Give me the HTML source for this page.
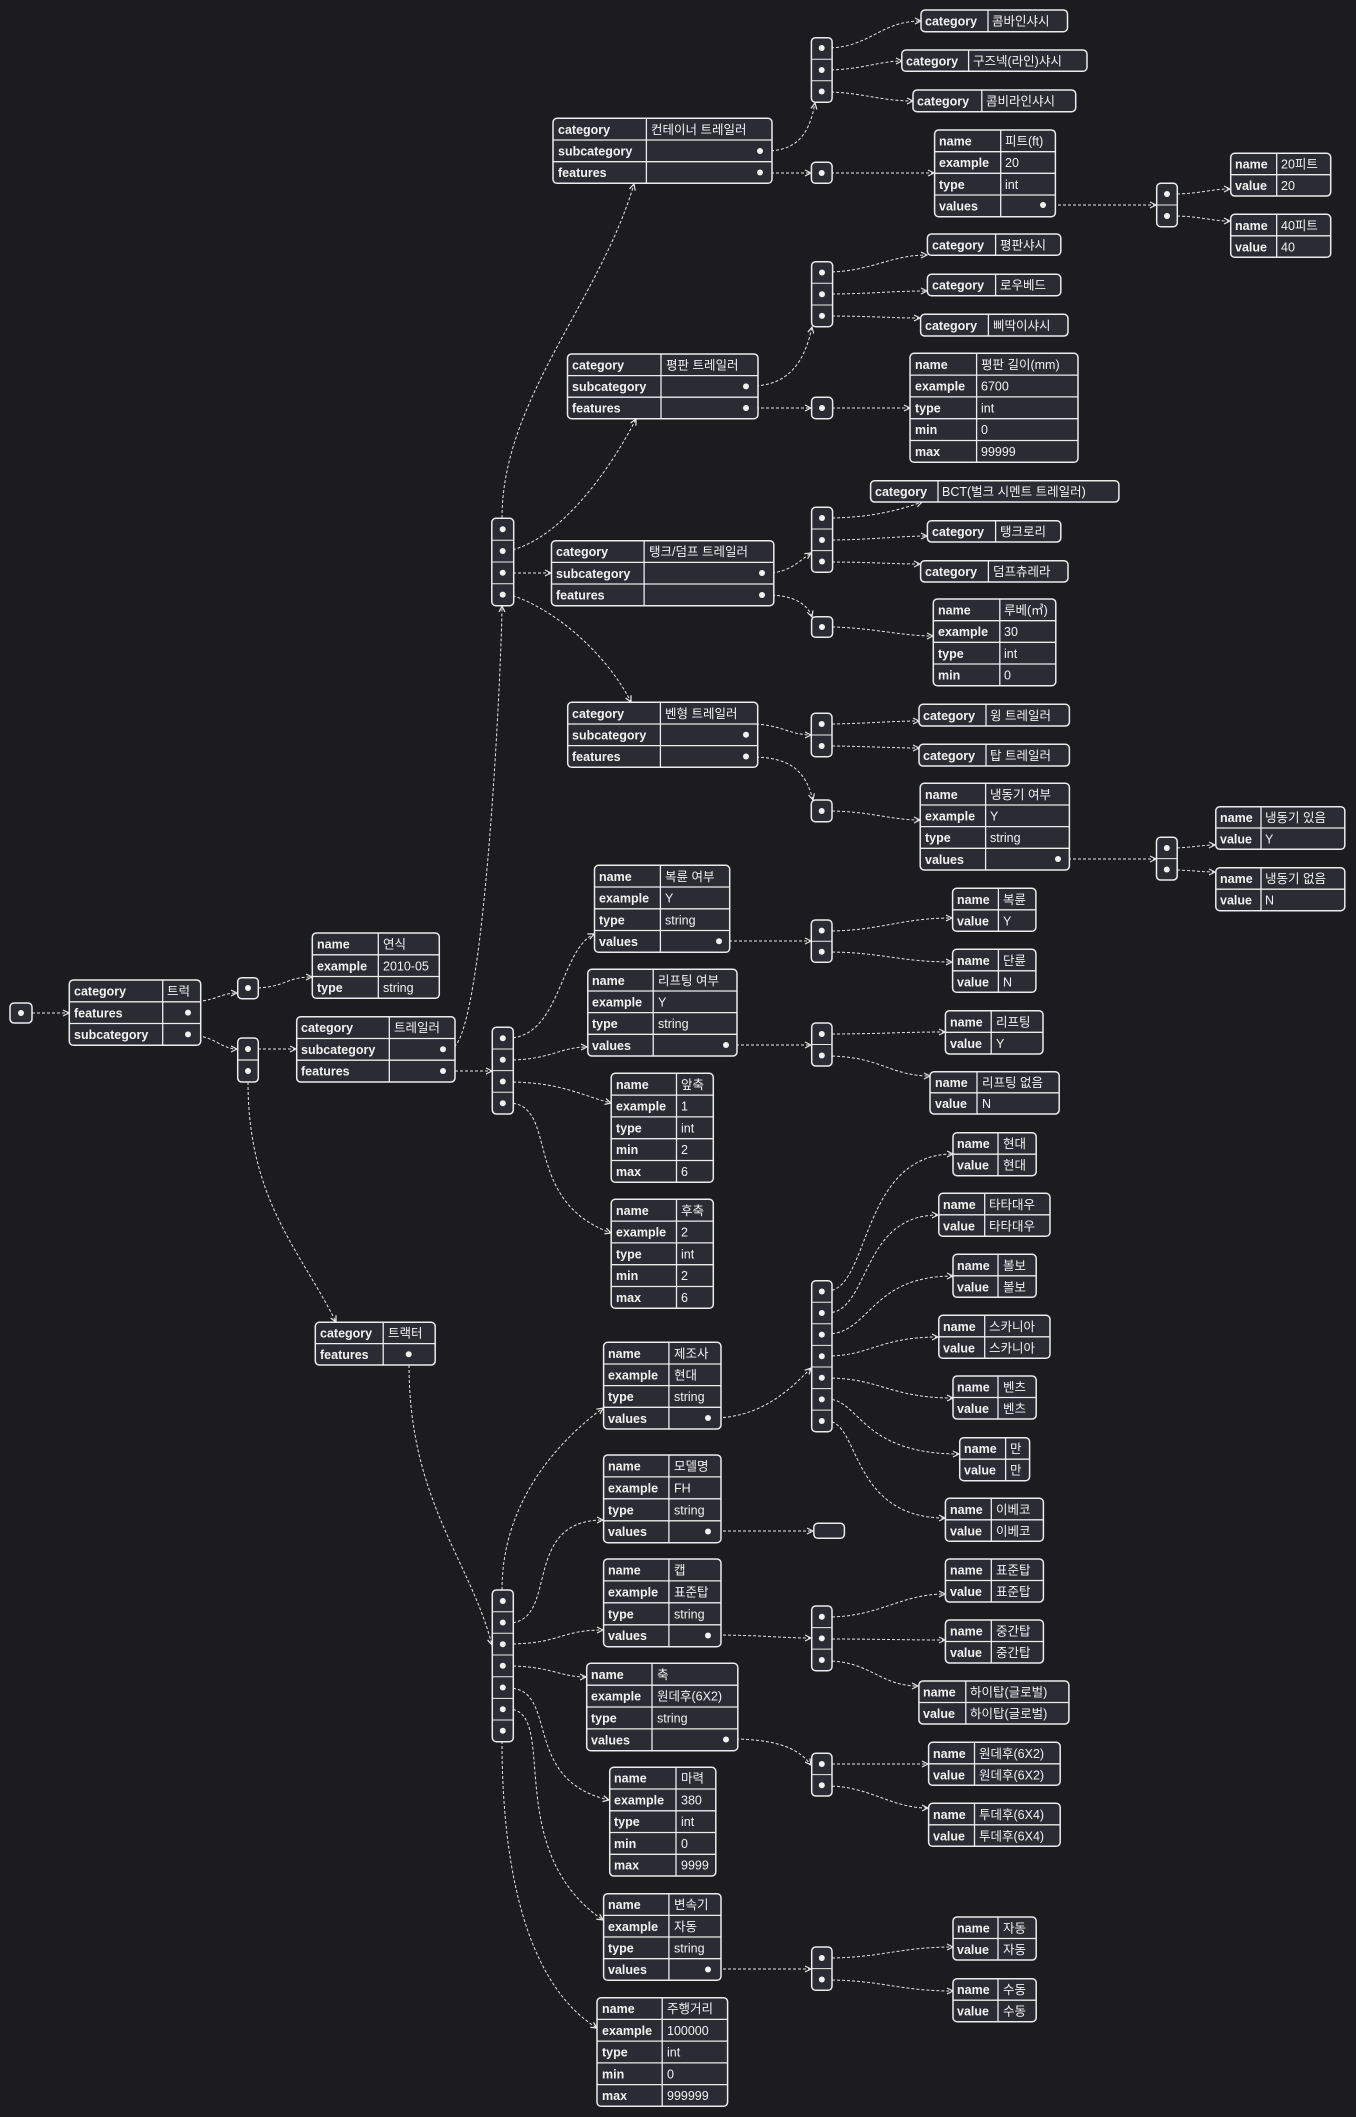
<!DOCTYPE html>
<html><head><meta charset="utf-8"><style>
html,body{margin:0;padding:0;background:#1c1c1e;}
svg{display:block;}
.t rect.b{fill:#2b2b33;stroke:#ececec;stroke-width:1.5;}
.t line{stroke:#ececec;stroke-width:1.3;}
text{font-family:"Liberation Sans","Noto Sans CJK KR",sans-serif;font-size:12.5px;fill:#f2f2f2;}
text.k{font-weight:bold;}
.d{fill:#f2f2f2;}
.e{fill:none;stroke:#e6e6e6;stroke-width:1;stroke-dasharray:3 2;marker-end:url(#ar);}
.bx{fill:#2b2b33;stroke:#ececec;stroke-width:1.5;}
</style></head><body>
<svg width="1356" height="2117" viewBox="0 0 1356 2117" xmlns="http://www.w3.org/2000/svg">
<defs><marker id="ar" markerWidth="8" markerHeight="8" refX="7" refY="4" orient="auto" markerUnits="userSpaceOnUse"><path d="M1,1 L7,4 L1,7" fill="none" stroke="#e6e6e6" stroke-width="1.2"/></marker></defs>

<!-- edges -->
<path class="e" d="M32,1013 L69,1013"/>
<path class="e" d="M188,1002 C215,1002 220,993 237,993"/>
<path class="e" d="M188,1035 C215,1035 220,1049 237,1049"/>
<path class="e" d="M253,988 C285,988 285,977 312,977"/>
<path class="e" d="M253,1049 L296,1049"/>
<path class="e" d="M248,1082 C248,1200 300,1250 336,1322"/>
<path class="e" d="M450,1049 C485,1049 502,650 502,606"/>
<path class="e" d="M450,1071 L492,1071"/>
<path class="e" d="M502,518 C502,400 600,300 634,184"/>
<path class="e" d="M508,551 C560,540 610,470 636,419"/>
<path class="e" d="M508,573 L551,573"/>
<path class="e" d="M508,594 C560,610 610,660 631,702"/>
<path class="e" d="M766,151 C800,151 810,130 815,103"/>
<path class="e" d="M766,173 L811,173"/>
<path class="e" d="M826,48 C870,48 880,21 921,21"/>
<path class="e" d="M826,70 C860,70 880,61 902,61"/>
<path class="e" d="M826,92 C860,92 880,101 913,101"/>
<path class="e" d="M826,173 L934,173"/>
<path class="e" d="M1048,205 L1156,205"/>
<path class="e" d="M1172,194 C1200,194 1210,189 1230,189"/>
<path class="e" d="M1172,216 C1200,216 1210,221 1230,221"/>
<path class="e" d="M751,386 C790,386 805,360 812,327"/>
<path class="e" d="M751,408 L811,408"/>
<path class="e" d="M827,408 L910,408"/>
<path class="e" d="M827,272 C870,272 890,255 927,255"/>
<path class="e" d="M827,294 C870,294 890,291 927,291"/>
<path class="e" d="M827,316 C870,316 890,318 920,318"/>
<path class="e" d="M767,573 C790,573 800,560 811,553"/>
<path class="e" d="M767,595 C795,595 808,605 812,617"/>
<path class="e" d="M827,518 C870,518 900,510 922,502"/>
<path class="e" d="M827,540 C870,540 900,536 927,536"/>
<path class="e" d="M827,562 C870,562 890,564 920,564"/>
<path class="e" d="M827,627 C870,627 900,636 933,636"/>
<path class="e" d="M751,724 C780,724 790,735 811,735"/>
<path class="e" d="M827,724 C860,724 890,721 919,721"/>
<path class="e" d="M827,746 C860,746 890,748 919,748"/>
<path class="e" d="M751,757 C790,757 805,770 813,800"/>
<path class="e" d="M827,811 C870,811 890,820 920,820"/>
<path class="e" d="M1063,859 L1156,859"/>
<path class="e" d="M1172,848 C1190,848 1200,845 1215,845"/>
<path class="e" d="M1172,870 C1190,870 1200,872 1215,872"/>
<path class="e" d="M508,1038 C560,1038 560,950 594,934"/>
<path class="e" d="M508,1060 C550,1060 560,1047 587,1047"/>
<path class="e" d="M508,1082 C560,1082 580,1095 611,1103"/>
<path class="e" d="M508,1103 C560,1103 520,1200 611,1233"/>
<path class="e" d="M724,941 L811,941"/>
<path class="e" d="M827,931 C880,931 900,918 952,918"/>
<path class="e" d="M827,952 C880,952 900,962 952,962"/>
<path class="e" d="M731,1045 L811,1045"/>
<path class="e" d="M827,1034 C880,1034 900,1032 945,1032"/>
<path class="e" d="M827,1056 C880,1056 890,1076 930,1076"/>
<path class="e" d="M409,1365 C409,1500 470,1560 492,1645"/>
<path class="e" d="M502,1590 C502,1500 560,1440 603,1408"/>
<path class="e" d="M508,1623 C560,1623 520,1520 603,1520"/>
<path class="e" d="M508,1644 C560,1644 560,1630 603,1630"/>
<path class="e" d="M508,1666 C550,1666 560,1677 586,1677"/>
<path class="e" d="M508,1688 C560,1688 520,1780 609,1800"/>
<path class="e" d="M508,1709 C560,1709 500,1850 603,1920"/>
<path class="e" d="M502,1741 C502,1850 520,1980 597,2028"/>
<path class="e" d="M713,1418 C760,1418 790,1390 811,1368"/>
<path class="e" d="M827,1291 C870,1291 860,1154 953,1154"/>
<path class="e" d="M827,1313 C870,1313 860,1215 938,1215"/>
<path class="e" d="M827,1334 C870,1334 870,1276 953,1276"/>
<path class="e" d="M827,1356 C870,1356 880,1337 938,1337"/>
<path class="e" d="M827,1378 C880,1378 890,1398 953,1398"/>
<path class="e" d="M827,1399 C860,1399 860,1454 959,1454"/>
<path class="e" d="M827,1421 C860,1421 850,1518 945,1518"/>
<path class="e" d="M713,1531 L813,1531"/>
<path class="e" d="M713,1635 C760,1635 780,1638 811,1638"/>
<path class="e" d="M827,1617 C880,1617 900,1594 945,1594"/>
<path class="e" d="M827,1639 C880,1639 900,1640 945,1640"/>
<path class="e" d="M827,1661 C870,1661 880,1686 918,1686"/>
<path class="e" d="M731,1739 C780,1739 800,1750 811,1765"/>
<path class="e" d="M827,1764 L928,1764"/>
<path class="e" d="M827,1786 C870,1786 890,1808 928,1808"/>
<path class="e" d="M713,1969 L811,1969"/>
<path class="e" d="M827,1958 C880,1958 900,1947 953,1947"/>
<path class="e" d="M827,1980 C880,1980 900,1991 953,1991"/>

<!-- dot boxes -->
<g>
<rect class="bx" x="10" y="1003" width="22" height="20" rx="4"/><circle class="d" cx="21" cy="1013" r="3"/>
<rect class="bx" x="237.7" y="977.7" width="20.6" height="21" rx="4"/><circle class="d" cx="248" cy="988" r="3"/>
<rect class="bx" x="237.7" y="1038" width="20.6" height="44" rx="4"/><line x1="237.7" y1="1060" x2="258.3" y2="1060" stroke="#ececec" stroke-width="1.3"/><circle class="d" cx="248" cy="1049" r="3"/><circle class="d" cx="248" cy="1071" r="3"/>
<rect class="bx" x="491.8" y="518.3" width="21.9" height="87.4" rx="4"/><line x1="491.8" y1="540.2" x2="513.7" y2="540.2" stroke="#ececec"/><line x1="491.8" y1="562" x2="513.7" y2="562" stroke="#ececec"/><line x1="491.8" y1="583.8" x2="513.7" y2="583.8" stroke="#ececec"/><circle class="d" cx="502.7" cy="529.2" r="3"/><circle class="d" cx="502.7" cy="551" r="3"/><circle class="d" cx="502.7" cy="572.8" r="3"/><circle class="d" cx="502.7" cy="594.6" r="3"/>
<rect class="bx" x="811.4" y="37.7" width="20.7" height="64.6" rx="4"/><line x1="811.4" y1="59.2" x2="832.1" y2="59.2" stroke="#ececec"/><line x1="811.4" y1="80.8" x2="832.1" y2="80.8" stroke="#ececec"/><circle class="d" cx="821.7" cy="48" r="3"/><circle class="d" cx="821.7" cy="70" r="3"/><circle class="d" cx="821.7" cy="91.5" r="3"/>
<rect class="bx" x="811.4" y="162.3" width="20.7" height="21" rx="4"/><circle class="d" cx="821.7" cy="173" r="3"/>
<rect class="bx" x="1156.7" y="183.3" width="20.6" height="43.4" rx="4"/><line x1="1156.7" y1="205" x2="1177.3" y2="205" stroke="#ececec"/><circle class="d" cx="1167" cy="194" r="3"/><circle class="d" cx="1167" cy="216" r="3"/>
<rect class="bx" x="811.6" y="261.7" width="21" height="65" rx="4"/><line x1="811.6" y1="283.3" x2="832.6" y2="283.3" stroke="#ececec"/><line x1="811.6" y1="305" x2="832.6" y2="305" stroke="#ececec"/><circle class="d" cx="822" cy="272.5" r="3"/><circle class="d" cx="822" cy="294.2" r="3"/><circle class="d" cx="822" cy="315.9" r="3"/>
<rect class="bx" x="811.6" y="397.3" width="21" height="21.4" rx="4"/><circle class="d" cx="822" cy="408" r="3"/>
<rect class="bx" x="811.6" y="507.3" width="21" height="65" rx="4"/><line x1="811.6" y1="529" x2="832.6" y2="529" stroke="#ececec"/><line x1="811.6" y1="550.6" x2="832.6" y2="550.6" stroke="#ececec"/><circle class="d" cx="822" cy="518" r="3"/><circle class="d" cx="822" cy="540" r="3"/><circle class="d" cx="822" cy="561.5" r="3"/>
<rect class="bx" x="811.6" y="616.7" width="21" height="20.6" rx="4"/><circle class="d" cx="822" cy="627" r="3"/>
<rect class="bx" x="811.3" y="713.3" width="20.7" height="43.4" rx="4"/><line x1="811.3" y1="735" x2="832" y2="735" stroke="#ececec"/><circle class="d" cx="821.7" cy="724" r="3"/><circle class="d" cx="821.7" cy="746" r="3"/>
<rect class="bx" x="811.3" y="800" width="20.7" height="21.7" rx="4"/><circle class="d" cx="821.7" cy="811" r="3"/>
<rect class="bx" x="1156.5" y="837.3" width="20.7" height="42.7" rx="4"/><line x1="1156.5" y1="858.6" x2="1177.2" y2="858.6" stroke="#ececec"/><circle class="d" cx="1166.8" cy="848" r="3"/><circle class="d" cx="1166.8" cy="869.5" r="3"/>
<rect class="bx" x="492.3" y="1027.3" width="21" height="86.7" rx="4"/><line x1="492.3" y1="1049" x2="513.3" y2="1049" stroke="#ececec"/><line x1="492.3" y1="1070.6" x2="513.3" y2="1070.6" stroke="#ececec"/><line x1="492.3" y1="1092.3" x2="513.3" y2="1092.3" stroke="#ececec"/><circle class="d" cx="502.8" cy="1038.2" r="3"/><circle class="d" cx="502.8" cy="1059.8" r="3"/><circle class="d" cx="502.8" cy="1081.5" r="3"/><circle class="d" cx="502.8" cy="1103.2" r="3"/>
<rect class="bx" x="811.3" y="920" width="20.7" height="42.3" rx="4"/><line x1="811.3" y1="941.2" x2="832" y2="941.2" stroke="#ececec"/><circle class="d" cx="821.7" cy="930.6" r="3"/><circle class="d" cx="821.7" cy="951.8" r="3"/>
<rect class="bx" x="811.7" y="1023" width="20.3" height="43" rx="4"/><line x1="811.7" y1="1044.5" x2="832" y2="1044.5" stroke="#ececec"/><circle class="d" cx="821.8" cy="1034" r="3"/><circle class="d" cx="821.8" cy="1055.5" r="3"/>
<rect class="bx" x="811.7" y="1280.7" width="20.3" height="151" rx="4"/>
<line x1="811.7" y1="1302.3" x2="832" y2="1302.3" stroke="#ececec"/><line x1="811.7" y1="1323.8" x2="832" y2="1323.8" stroke="#ececec"/><line x1="811.7" y1="1345.4" x2="832" y2="1345.4" stroke="#ececec"/><line x1="811.7" y1="1367" x2="832" y2="1367" stroke="#ececec"/><line x1="811.7" y1="1388.6" x2="832" y2="1388.6" stroke="#ececec"/><line x1="811.7" y1="1410.1" x2="832" y2="1410.1" stroke="#ececec"/>
<circle class="d" cx="821.8" cy="1291.5" r="3"/><circle class="d" cx="821.8" cy="1313" r="3"/><circle class="d" cx="821.8" cy="1334.6" r="3"/><circle class="d" cx="821.8" cy="1356.2" r="3"/><circle class="d" cx="821.8" cy="1377.8" r="3"/><circle class="d" cx="821.8" cy="1399.4" r="3"/><circle class="d" cx="821.8" cy="1421" r="3"/>
<rect class="bx" x="813.8" y="1523.3" width="30.6" height="15" rx="4"/>
<rect class="bx" x="811.7" y="1606" width="20.3" height="64.7" rx="4"/><line x1="811.7" y1="1627.6" x2="832" y2="1627.6" stroke="#ececec"/><line x1="811.7" y1="1649.1" x2="832" y2="1649.1" stroke="#ececec"/><circle class="d" cx="821.8" cy="1616.8" r="3"/><circle class="d" cx="821.8" cy="1638.4" r="3"/><circle class="d" cx="821.8" cy="1660" r="3"/>
<rect class="bx" x="492.3" y="1590" width="21" height="151.7" rx="4"/>
<line x1="492.3" y1="1611.7" x2="513.3" y2="1611.7" stroke="#ececec"/><line x1="492.3" y1="1633.3" x2="513.3" y2="1633.3" stroke="#ececec"/><line x1="492.3" y1="1655" x2="513.3" y2="1655" stroke="#ececec"/><line x1="492.3" y1="1676.7" x2="513.3" y2="1676.7" stroke="#ececec"/><line x1="492.3" y1="1698.4" x2="513.3" y2="1698.4" stroke="#ececec"/><line x1="492.3" y1="1720" x2="513.3" y2="1720" stroke="#ececec"/>
<circle class="d" cx="502.8" cy="1601" r="3"/><circle class="d" cx="502.8" cy="1622.5" r="3"/><circle class="d" cx="502.8" cy="1644.2" r="3"/><circle class="d" cx="502.8" cy="1665.8" r="3"/><circle class="d" cx="502.8" cy="1687.5" r="3"/><circle class="d" cx="502.8" cy="1709.2" r="3"/><circle class="d" cx="502.8" cy="1730.8" r="3"/>
<rect class="bx" x="811.7" y="1753.3" width="20.3" height="42.7" rx="4"/><line x1="811.7" y1="1774.6" x2="832" y2="1774.6" stroke="#ececec"/><circle class="d" cx="821.8" cy="1764" r="3"/><circle class="d" cx="821.8" cy="1785.3" r="3"/>
<rect class="bx" x="811.7" y="1947" width="20.3" height="43.3" rx="4"/><line x1="811.7" y1="1968.6" x2="832" y2="1968.6" stroke="#ececec"/><circle class="d" cx="821.8" cy="1958" r="3"/><circle class="d" cx="821.8" cy="1979.5" r="3"/>
</g>

<!-- tables -->
<g class="t">
<!-- 트럭 -->
<rect class="b" x="69.3" y="980" width="131.4" height="65.3" rx="4"/><line x1="162.7" y1="980" x2="162.7" y2="1045.3"/><line x1="69.3" y1="1001.8" x2="200.7" y2="1001.8"/><line x1="69.3" y1="1023.5" x2="200.7" y2="1023.5"/>
<text class="k" x="74" y="995.5">category</text><text x="167" y="995.5">트럭</text>
<text class="k" x="74" y="1017.3">features</text><circle class="d" cx="188" cy="1012.6" r="3"/>
<text class="k" x="74" y="1039">subcategory</text><circle class="d" cx="188" cy="1034.4" r="3"/>
<!-- 연식 -->
<rect class="b" x="312.3" y="933" width="127" height="65.3" rx="4"/><line x1="378.3" y1="933" x2="378.3" y2="998.3"/><line x1="312.3" y1="954.8" x2="439.3" y2="954.8"/><line x1="312.3" y1="976.5" x2="439.3" y2="976.5"/>
<text class="k" x="317" y="948.5">name</text><text x="383" y="948.5">연식</text>
<text class="k" x="317" y="970.3">example</text><text x="383" y="970.3">2010-05</text>
<text class="k" x="317" y="992">type</text><text x="383" y="992">string</text>
<!-- 트레일러 -->
<rect class="b" x="296.7" y="1016.7" width="158.3" height="65.3" rx="4"/><line x1="389.3" y1="1016.7" x2="389.3" y2="1082"/><line x1="296.7" y1="1038.5" x2="455" y2="1038.5"/><line x1="296.7" y1="1060.2" x2="455" y2="1060.2"/>
<text class="k" x="301" y="1032.2">category</text><text x="394" y="1032.2">트레일러</text>
<text class="k" x="301" y="1054">subcategory</text><circle class="d" cx="443" cy="1049.3" r="3"/>
<text class="k" x="301" y="1075.7">features</text><circle class="d" cx="443" cy="1071" r="3"/>
<!-- 컨테이너 -->
<rect class="b" x="553" y="118.3" width="219" height="65" rx="4"/><line x1="646.4" y1="118.3" x2="646.4" y2="183.3"/><line x1="553" y1="140" x2="772" y2="140"/><line x1="553" y1="161.7" x2="772" y2="161.7"/>
<text class="k" x="558" y="133.8">category</text><text x="651" y="133.8">컨테이너 트레일러</text>
<text class="k" x="558" y="155.5">subcategory</text><circle class="d" cx="760" cy="151" r="3"/>
<text class="k" x="558" y="177.2">features</text><circle class="d" cx="760" cy="172.5" r="3"/>
<!-- single category boxes -->
<rect class="b" x="921" y="10" width="146.5" height="21.7" rx="4"/><line x1="988" y1="10" x2="988" y2="31.7"/><text class="k" x="925" y="25.5">category</text><text x="992" y="25.5">콤바인샤시</text>
<rect class="b" x="901.8" y="50" width="185.2" height="21.3" rx="4"/><line x1="968.6" y1="50" x2="968.6" y2="71.3"/><text class="k" x="906" y="65.3">category</text><text x="973" y="65.3">구즈넥(라인)샤시</text>
<rect class="b" x="913" y="90" width="162.7" height="21.7" rx="4"/><line x1="981.8" y1="90" x2="981.8" y2="111.7"/><text class="k" x="917" y="105.5">category</text><text x="986" y="105.5">콤비라인샤시</text>
<!-- 피트 -->
<rect class="b" x="934.6" y="130" width="120.8" height="86.7" rx="4"/><line x1="1000.7" y1="130" x2="1000.7" y2="216.7"/><line x1="934.6" y1="151.7" x2="1055.4" y2="151.7"/><line x1="934.6" y1="173.3" x2="1055.4" y2="173.3"/><line x1="934.6" y1="195" x2="1055.4" y2="195"/>
<text class="k" x="939" y="145.5">name</text><text x="1005" y="145.5">피트(ft)</text>
<text class="k" x="939" y="167.2">example</text><text x="1005" y="167.2">20</text>
<text class="k" x="939" y="188.8">type</text><text x="1005" y="188.8">int</text>
<text class="k" x="939" y="210.5">values</text><circle class="d" cx="1043" cy="205" r="3"/>
<!-- 20피트 40피트 -->
<rect class="b" x="1230.7" y="153.3" width="100" height="42.7" rx="4"/><line x1="1276.7" y1="153.3" x2="1276.7" y2="196"/><line x1="1230.7" y1="174.7" x2="1330.7" y2="174.7"/>
<text class="k" x="1235" y="168.7">name</text><text x="1281" y="168.7">20피트</text><text class="k" x="1235" y="190">value</text><text x="1281" y="190">20</text>
<rect class="b" x="1230.7" y="214.3" width="100" height="43" rx="4"/><line x1="1276.7" y1="214.3" x2="1276.7" y2="257.3"/><line x1="1230.7" y1="235.8" x2="1330.7" y2="235.8"/>
<text class="k" x="1235" y="229.8">name</text><text x="1281" y="229.8">40피트</text><text class="k" x="1235" y="251.3">value</text><text x="1281" y="251.3">40</text>
<!-- 평판 subs -->
<rect class="b" x="927.4" y="234" width="133.4" height="21.3" rx="4"/><line x1="995.6" y1="234" x2="995.6" y2="255.3"/><text class="k" x="932" y="249.3">category</text><text x="1000" y="249.3">평판샤시</text>
<rect class="b" x="927.4" y="274.3" width="133.4" height="21.4" rx="4"/><line x1="995.6" y1="274.3" x2="995.6" y2="295.7"/><text class="k" x="932" y="289.6">category</text><text x="1000" y="289.6">로우베드</text>
<rect class="b" x="920.6" y="314.3" width="147.4" height="21.7" rx="4"/><line x1="988.4" y1="314.3" x2="988.4" y2="336"/><text class="k" x="925" y="329.8">category</text><text x="993" y="329.8">삐딱이샤시</text>
<!-- 평판 트레일러 -->
<rect class="b" x="567.5" y="354" width="190.5" height="64.7" rx="4"/><line x1="661" y1="354" x2="661" y2="418.7"/><line x1="567.5" y1="375.6" x2="758" y2="375.6"/><line x1="567.5" y1="397.2" x2="758" y2="397.2"/>
<text class="k" x="572" y="369.5">category</text><text x="666" y="369.5">평판 트레일러</text>
<text class="k" x="572" y="391">subcategory</text><circle class="d" cx="746" cy="386.4" r="3"/>
<text class="k" x="572" y="412.6">features</text><circle class="d" cx="746" cy="408" r="3"/>
<!-- 평판 길이 -->
<rect class="b" x="910" y="353.3" width="168" height="109" rx="4"/><line x1="976.6" y1="353.3" x2="976.6" y2="462.3"/><line x1="910" y1="375.1" x2="1078" y2="375.1"/><line x1="910" y1="396.9" x2="1078" y2="396.9"/><line x1="910" y1="418.7" x2="1078" y2="418.7"/><line x1="910" y1="440.5" x2="1078" y2="440.5"/>
<text class="k" x="915" y="368.8">name</text><text x="981" y="368.8">평판 길이(mm)</text>
<text class="k" x="915" y="390.6">example</text><text x="981" y="390.6">6700</text>
<text class="k" x="915" y="412.4">type</text><text x="981" y="412.4">int</text>
<text class="k" x="915" y="434.2">min</text><text x="981" y="434.2">0</text>
<text class="k" x="915" y="456">max</text><text x="981" y="456">99999</text>
<!-- 탱크 subs -->
<rect class="b" x="870.6" y="480.7" width="248.3" height="21.3" rx="4"/><line x1="938" y1="480.7" x2="938" y2="502"/><text class="k" x="875" y="496">category</text><text x="942" y="496">BCT(벌크 시멘트 트레일러)</text>
<rect class="b" x="927.4" y="520.7" width="133.4" height="21.3" rx="4"/><line x1="995.6" y1="520.7" x2="995.6" y2="542"/><text class="k" x="932" y="536">category</text><text x="1000" y="536">탱크로리</text>
<rect class="b" x="920.6" y="560.7" width="147.4" height="21.3" rx="4"/><line x1="988.4" y1="560.7" x2="988.4" y2="582"/><text class="k" x="925" y="576">category</text><text x="993" y="576">덤프츄레라</text>
<!-- 탱크/덤프 -->
<rect class="b" x="551.5" y="540.7" width="222.3" height="65" rx="4"/><line x1="644.1" y1="540.7" x2="644.1" y2="605.7"/><line x1="551.5" y1="562.4" x2="773.8" y2="562.4"/><line x1="551.5" y1="584" x2="773.8" y2="584"/>
<text class="k" x="556" y="556.2">category</text><text x="649" y="556.2">탱크/덤프 트레일러</text>
<text class="k" x="556" y="578">subcategory</text><circle class="d" cx="762" cy="573" r="3"/>
<text class="k" x="556" y="599.6">features</text><circle class="d" cx="762" cy="595" r="3"/>
<!-- 루베 -->
<rect class="b" x="933.3" y="599" width="122.5" height="86.7" rx="4"/><line x1="999.8" y1="599" x2="999.8" y2="685.7"/><line x1="933.3" y1="620.7" x2="1055.8" y2="620.7"/><line x1="933.3" y1="642.3" x2="1055.8" y2="642.3"/><line x1="933.3" y1="664" x2="1055.8" y2="664"/>
<text class="k" x="938" y="614.5">name</text><text x="1004" y="614.5">루베(㎥)</text>
<text class="k" x="938" y="636.2">example</text><text x="1004" y="636.2">30</text>
<text class="k" x="938" y="657.8">type</text><text x="1004" y="657.8">int</text>
<text class="k" x="938" y="679.5">min</text><text x="1004" y="679.5">0</text>
<!-- 벤형 -->
<rect class="b" x="567.7" y="702.3" width="190" height="65" rx="4"/><line x1="660.4" y1="702.3" x2="660.4" y2="767.3"/><line x1="567.7" y1="724" x2="757.7" y2="724"/><line x1="567.7" y1="745.6" x2="757.7" y2="745.6"/>
<text class="k" x="572" y="717.8">category</text><text x="665" y="717.8">벤형 트레일러</text>
<text class="k" x="572" y="739.5">subcategory</text><circle class="d" cx="746" cy="734.8" r="3"/>
<text class="k" x="572" y="761.2">features</text><circle class="d" cx="746" cy="756.5" r="3"/>
<rect class="b" x="919" y="704.3" width="150.4" height="21.7" rx="4"/><line x1="986" y1="704.3" x2="986" y2="726"/><text class="k" x="923" y="719.8">category</text><text x="990" y="719.8">윙 트레일러</text>
<rect class="b" x="919" y="744.3" width="150.4" height="21.7" rx="4"/><line x1="986" y1="744.3" x2="986" y2="766"/><text class="k" x="923" y="759.8">category</text><text x="990" y="759.8">탑 트레일러</text>
<!-- 냉동기 여부 -->
<rect class="b" x="920.2" y="783.3" width="149.2" height="86.7" rx="4"/><line x1="985.6" y1="783.3" x2="985.6" y2="870"/><line x1="920.2" y1="805" x2="1069.4" y2="805"/><line x1="920.2" y1="826.6" x2="1069.4" y2="826.6"/><line x1="920.2" y1="848.3" x2="1069.4" y2="848.3"/>
<text class="k" x="925" y="798.8">name</text><text x="990" y="798.8">냉동기 여부</text>
<text class="k" x="925" y="820.5">example</text><text x="990" y="820.5">Y</text>
<text class="k" x="925" y="842.1">type</text><text x="990" y="842.1">string</text>
<text class="k" x="925" y="863.8">values</text><circle class="d" cx="1058" cy="859" r="3"/>
<rect class="b" x="1215.8" y="806.7" width="129" height="42.6" rx="4"/><line x1="1261" y1="806.7" x2="1261" y2="849.3"/><line x1="1215.8" y1="828" x2="1344.8" y2="828"/>
<text class="k" x="1220" y="822">name</text><text x="1265" y="822">냉동기 있음</text><text class="k" x="1220" y="843.3">value</text><text x="1265" y="843.3">Y</text>
<rect class="b" x="1215.8" y="867.7" width="129" height="43" rx="4"/><line x1="1261" y1="867.7" x2="1261" y2="910.7"/><line x1="1215.8" y1="889.2" x2="1344.8" y2="889.2"/>
<text class="k" x="1220" y="883">name</text><text x="1265" y="883">냉동기 없음</text><text class="k" x="1220" y="904.5">value</text><text x="1265" y="904.5">N</text>
<!-- 복륜 여부 -->
<rect class="b" x="594.5" y="865.3" width="135.2" height="87" rx="4"/><line x1="660.4" y1="865.3" x2="660.4" y2="952.3"/><line x1="594.5" y1="887" x2="729.7" y2="887"/><line x1="594.5" y1="908.8" x2="729.7" y2="908.8"/><line x1="594.5" y1="930.5" x2="729.7" y2="930.5"/>
<text class="k" x="599" y="880.8">name</text><text x="665" y="880.8">복륜 여부</text>
<text class="k" x="599" y="902.6">example</text><text x="665" y="902.6">Y</text>
<text class="k" x="599" y="924.3">type</text><text x="665" y="924.3">string</text>
<text class="k" x="599" y="946">values</text><circle class="d" cx="719" cy="941.2" r="3"/>
<rect class="b" x="952.6" y="888.3" width="83.3" height="43" rx="4"/><line x1="998.4" y1="888.3" x2="998.4" y2="931.3"/><line x1="952.6" y1="909.8" x2="1035.9" y2="909.8"/>
<text class="k" x="957" y="903.8">name</text><text x="1003" y="903.8">복륜</text><text class="k" x="957" y="925.3">value</text><text x="1003" y="925.3">Y</text>
<rect class="b" x="952.6" y="949.3" width="83.3" height="43" rx="4"/><line x1="998.4" y1="949.3" x2="998.4" y2="992.3"/><line x1="952.6" y1="970.8" x2="1035.9" y2="970.8"/>
<text class="k" x="957" y="964.8">name</text><text x="1003" y="964.8">단륜</text><text class="k" x="957" y="986.3">value</text><text x="1003" y="986.3">N</text>
<!-- 리프팅 여부 -->
<rect class="b" x="587.8" y="969.3" width="149.2" height="86.7" rx="4"/><line x1="653.2" y1="969.3" x2="653.2" y2="1056"/><line x1="587.8" y1="991" x2="737" y2="991"/><line x1="587.8" y1="1012.6" x2="737" y2="1012.6"/><line x1="587.8" y1="1034.3" x2="737" y2="1034.3"/>
<text class="k" x="592" y="984.8">name</text><text x="658" y="984.8">리프팅 여부</text>
<text class="k" x="592" y="1006.5">example</text><text x="658" y="1006.5">Y</text>
<text class="k" x="592" y="1028.1">type</text><text x="658" y="1028.1">string</text>
<text class="k" x="592" y="1049.8">values</text><circle class="d" cx="726" cy="1045" r="3"/>
<rect class="b" x="945.4" y="1010.7" width="97.6" height="43.3" rx="4"/><line x1="991.2" y1="1010.7" x2="991.2" y2="1054"/><line x1="945.4" y1="1032.3" x2="1043" y2="1032.3"/>
<text class="k" x="950" y="1026.3">name</text><text x="996" y="1026.3">리프팅</text><text class="k" x="950" y="1048">value</text><text x="996" y="1048">Y</text>
<rect class="b" x="930" y="1071.7" width="129.2" height="42.3" rx="4"/><line x1="977" y1="1071.7" x2="977" y2="1114"/><line x1="930" y1="1092.8" x2="1059.2" y2="1092.8"/>
<text class="k" x="935" y="1087">name</text><text x="982" y="1087">리프팅 없음</text><text class="k" x="935" y="1108">value</text><text x="982" y="1108">N</text>
<!-- 앞축 -->
<rect class="b" x="611.2" y="1073.3" width="102.1" height="109" rx="4"/><line x1="676.5" y1="1073.3" x2="676.5" y2="1182.3"/><line x1="611.2" y1="1095.1" x2="713.3" y2="1095.1"/><line x1="611.2" y1="1116.9" x2="713.3" y2="1116.9"/><line x1="611.2" y1="1138.7" x2="713.3" y2="1138.7"/><line x1="611.2" y1="1160.5" x2="713.3" y2="1160.5"/>
<text class="k" x="616" y="1088.8">name</text><text x="681" y="1088.8">앞축</text>
<text class="k" x="616" y="1110.6">example</text><text x="681" y="1110.6">1</text>
<text class="k" x="616" y="1132.4">type</text><text x="681" y="1132.4">int</text>
<text class="k" x="616" y="1154.2">min</text><text x="681" y="1154.2">2</text>
<text class="k" x="616" y="1176">max</text><text x="681" y="1176">6</text>
<!-- 후축 -->
<rect class="b" x="611.2" y="1199.3" width="102.1" height="109" rx="4"/><line x1="676.5" y1="1199.3" x2="676.5" y2="1308.3"/><line x1="611.2" y1="1221.1" x2="713.3" y2="1221.1"/><line x1="611.2" y1="1242.9" x2="713.3" y2="1242.9"/><line x1="611.2" y1="1264.7" x2="713.3" y2="1264.7"/><line x1="611.2" y1="1286.5" x2="713.3" y2="1286.5"/>
<text class="k" x="616" y="1214.8">name</text><text x="681" y="1214.8">후축</text>
<text class="k" x="616" y="1236.6">example</text><text x="681" y="1236.6">2</text>
<text class="k" x="616" y="1258.4">type</text><text x="681" y="1258.4">int</text>
<text class="k" x="616" y="1280.2">min</text><text x="681" y="1280.2">2</text>
<text class="k" x="616" y="1302">max</text><text x="681" y="1302">6</text>
<!-- 트랙터 -->
<rect class="b" x="315.3" y="1322.3" width="119.9" height="42.7" rx="4"/><line x1="383.2" y1="1322.3" x2="383.2" y2="1365"/><line x1="315.3" y1="1343.6" x2="435.2" y2="1343.6"/>
<text class="k" x="320" y="1337.7">category</text><text x="388" y="1337.7">트랙터</text>
<text class="k" x="320" y="1359">features</text><circle class="d" cx="408.7" cy="1354.3" r="3"/>
<!-- 제조사 -->
<rect class="b" x="603.6" y="1342.3" width="117.4" height="86.7" rx="4"/><line x1="668.9" y1="1342.3" x2="668.9" y2="1429"/><line x1="603.6" y1="1364" x2="721" y2="1364"/><line x1="603.6" y1="1385.6" x2="721" y2="1385.6"/><line x1="603.6" y1="1407.3" x2="721" y2="1407.3"/>
<text class="k" x="608" y="1357.8">name</text><text x="674" y="1357.8">제조사</text>
<text class="k" x="608" y="1379.5">example</text><text x="674" y="1379.5">현대</text>
<text class="k" x="608" y="1401.1">type</text><text x="674" y="1401.1">string</text>
<text class="k" x="608" y="1422.8">values</text><circle class="d" cx="708" cy="1418" r="3"/>
<!-- makers -->
<rect class="b" x="953" y="1132.7" width="83.2" height="43" rx="4"/><line x1="998" y1="1132.7" x2="998" y2="1175.7"/><line x1="953" y1="1154.2" x2="1036.2" y2="1154.2"/>
<text class="k" x="957" y="1148.2">name</text><text x="1003" y="1148.2">현대</text><text class="k" x="957" y="1169.7">value</text><text x="1003" y="1169.7">현대</text>
<rect class="b" x="938.8" y="1193.3" width="111.2" height="43" rx="4"/><line x1="984.7" y1="1193.3" x2="984.7" y2="1236.3"/><line x1="938.8" y1="1214.8" x2="1050" y2="1214.8"/>
<text class="k" x="943" y="1208.8">name</text><text x="989" y="1208.8">타타대우</text><text class="k" x="943" y="1230.3">value</text><text x="989" y="1230.3">타타대우</text>
<rect class="b" x="953" y="1254.3" width="83.2" height="43" rx="4"/><line x1="998" y1="1254.3" x2="998" y2="1297.3"/><line x1="953" y1="1275.8" x2="1036.2" y2="1275.8"/>
<text class="k" x="957" y="1269.8">name</text><text x="1003" y="1269.8">볼보</text><text class="k" x="957" y="1291.3">value</text><text x="1003" y="1291.3">볼보</text>
<rect class="b" x="938.8" y="1315.3" width="111.2" height="43" rx="4"/><line x1="984.7" y1="1315.3" x2="984.7" y2="1358.3"/><line x1="938.8" y1="1336.8" x2="1050" y2="1336.8"/>
<text class="k" x="943" y="1330.8">name</text><text x="989" y="1330.8">스카니아</text><text class="k" x="943" y="1352.3">value</text><text x="989" y="1352.3">스카니아</text>
<rect class="b" x="953" y="1376" width="83.2" height="43" rx="4"/><line x1="998" y1="1376" x2="998" y2="1419"/><line x1="953" y1="1397.5" x2="1036.2" y2="1397.5"/>
<text class="k" x="957" y="1391.5">name</text><text x="1003" y="1391.5">벤츠</text><text class="k" x="957" y="1413">value</text><text x="1003" y="1413">벤츠</text>
<rect class="b" x="959.7" y="1437.7" width="69.9" height="43" rx="4"/><line x1="1005.6" y1="1437.7" x2="1005.6" y2="1480.7"/><line x1="959.7" y1="1459.2" x2="1029.6" y2="1459.2"/>
<text class="k" x="964" y="1453.2">name</text><text x="1010" y="1453.2">만</text><text class="k" x="964" y="1474.7">value</text><text x="1010" y="1474.7">만</text>
<rect class="b" x="945.4" y="1498.3" width="98" height="43" rx="4"/><line x1="991.3" y1="1498.3" x2="991.3" y2="1541.3"/><line x1="945.4" y1="1519.8" x2="1043.4" y2="1519.8"/>
<text class="k" x="950" y="1513.8">name</text><text x="996" y="1513.8">이베코</text><text class="k" x="950" y="1535.3">value</text><text x="996" y="1535.3">이베코</text>
<!-- 모델명 -->
<rect class="b" x="603.6" y="1455" width="117.4" height="87.7" rx="4"/><line x1="668.9" y1="1455" x2="668.9" y2="1542.7"/><line x1="603.6" y1="1476.9" x2="721" y2="1476.9"/><line x1="603.6" y1="1498.8" x2="721" y2="1498.8"/><line x1="603.6" y1="1520.8" x2="721" y2="1520.8"/>
<text class="k" x="608" y="1470.5">name</text><text x="674" y="1470.5">모델명</text>
<text class="k" x="608" y="1492.4">example</text><text x="674" y="1492.4">FH</text>
<text class="k" x="608" y="1514.3">type</text><text x="674" y="1514.3">string</text>
<text class="k" x="608" y="1536.2">values</text><circle class="d" cx="708" cy="1531.5" r="3"/>
<!-- 캡 -->
<rect class="b" x="603.6" y="1559" width="117.4" height="87.7" rx="4"/><line x1="668.9" y1="1559" x2="668.9" y2="1646.7"/><line x1="603.6" y1="1580.9" x2="721" y2="1580.9"/><line x1="603.6" y1="1602.8" x2="721" y2="1602.8"/><line x1="603.6" y1="1624.8" x2="721" y2="1624.8"/>
<text class="k" x="608" y="1574.5">name</text><text x="674" y="1574.5">캡</text>
<text class="k" x="608" y="1596.4">example</text><text x="674" y="1596.4">표준탑</text>
<text class="k" x="608" y="1618.3">type</text><text x="674" y="1618.3">string</text>
<text class="k" x="608" y="1640.2">values</text><circle class="d" cx="708" cy="1635.5" r="3"/>
<rect class="b" x="945.4" y="1559" width="98" height="43" rx="4"/><line x1="991.3" y1="1559" x2="991.3" y2="1602"/><line x1="945.4" y1="1580.5" x2="1043.4" y2="1580.5"/>
<text class="k" x="950" y="1574.5">name</text><text x="996" y="1574.5">표준탑</text><text class="k" x="950" y="1596">value</text><text x="996" y="1596">표준탑</text>
<rect class="b" x="945.4" y="1620" width="98" height="43" rx="4"/><line x1="991.3" y1="1620" x2="991.3" y2="1663"/><line x1="945.4" y1="1641.5" x2="1043.4" y2="1641.5"/>
<text class="k" x="950" y="1635.5">name</text><text x="996" y="1635.5">중간탑</text><text class="k" x="950" y="1657">value</text><text x="996" y="1657">중간탑</text>
<rect class="b" x="918.9" y="1681" width="150" height="43" rx="4"/><line x1="965.8" y1="1681" x2="965.8" y2="1724"/><line x1="918.9" y1="1702.5" x2="1068.9" y2="1702.5"/>
<text class="k" x="923" y="1696.5">name</text><text x="970" y="1696.5">하이탑(글로벌)</text><text class="k" x="923" y="1718">value</text><text x="970" y="1718">하이탑(글로벌)</text>
<!-- 축 -->
<rect class="b" x="586.7" y="1663.3" width="151.1" height="87.4" rx="4"/><line x1="652" y1="1663.3" x2="652" y2="1750.7"/><line x1="586.7" y1="1685.2" x2="737.8" y2="1685.2"/><line x1="586.7" y1="1707" x2="737.8" y2="1707"/><line x1="586.7" y1="1728.9" x2="737.8" y2="1728.9"/>
<text class="k" x="591" y="1678.8">name</text><text x="657" y="1678.8">축</text>
<text class="k" x="591" y="1700.6">example</text><text x="657" y="1700.6">원데후(6X2)</text>
<text class="k" x="591" y="1722.5">type</text><text x="657" y="1722.5">string</text>
<text class="k" x="591" y="1744.3">values</text><circle class="d" cx="726" cy="1739.5" r="3"/>
<rect class="b" x="928.6" y="1742.3" width="131.6" height="43" rx="4"/><line x1="974.5" y1="1742.3" x2="974.5" y2="1785.3"/><line x1="928.6" y1="1763.8" x2="1060.2" y2="1763.8"/>
<text class="k" x="933" y="1757.8">name</text><text x="979" y="1757.8">원데후(6X2)</text><text class="k" x="933" y="1779.3">value</text><text x="979" y="1779.3">원데후(6X2)</text>
<rect class="b" x="928.6" y="1803.3" width="131.6" height="43" rx="4"/><line x1="974.5" y1="1803.3" x2="974.5" y2="1846.3"/><line x1="928.6" y1="1824.8" x2="1060.2" y2="1824.8"/>
<text class="k" x="933" y="1818.8">name</text><text x="979" y="1818.8">투데후(6X4)</text><text class="k" x="933" y="1840.3">value</text><text x="979" y="1840.3">투데후(6X4)</text>
<!-- 마력 -->
<rect class="b" x="609.7" y="1767.3" width="106.1" height="108.7" rx="4"/><line x1="676" y1="1767.3" x2="676" y2="1876"/><line x1="609.7" y1="1789" x2="715.8" y2="1789"/><line x1="609.7" y1="1810.8" x2="715.8" y2="1810.8"/><line x1="609.7" y1="1832.5" x2="715.8" y2="1832.5"/><line x1="609.7" y1="1854.3" x2="715.8" y2="1854.3"/>
<text class="k" x="614" y="1782.7">name</text><text x="681" y="1782.7">마력</text>
<text class="k" x="614" y="1804.5">example</text><text x="681" y="1804.5">380</text>
<text class="k" x="614" y="1826.2">type</text><text x="681" y="1826.2">int</text>
<text class="k" x="614" y="1848">min</text><text x="681" y="1848">0</text>
<text class="k" x="614" y="1869.7">max</text><text x="681" y="1869.7">9999</text>
<!-- 변속기 -->
<rect class="b" x="603.6" y="1893.7" width="117.4" height="86.6" rx="4"/><line x1="668.9" y1="1893.7" x2="668.9" y2="1980.3"/><line x1="603.6" y1="1915.4" x2="721" y2="1915.4"/><line x1="603.6" y1="1937" x2="721" y2="1937"/><line x1="603.6" y1="1958.7" x2="721" y2="1958.7"/>
<text class="k" x="608" y="1909.2">name</text><text x="674" y="1909.2">변속기</text>
<text class="k" x="608" y="1930.9">example</text><text x="674" y="1930.9">자동</text>
<text class="k" x="608" y="1952.5">type</text><text x="674" y="1952.5">string</text>
<text class="k" x="608" y="1974.2">values</text><circle class="d" cx="708" cy="1969.5" r="3"/>
<rect class="b" x="953" y="1917" width="83.2" height="43" rx="4"/><line x1="998" y1="1917" x2="998" y2="1960"/><line x1="953" y1="1938.5" x2="1036.2" y2="1938.5"/>
<text class="k" x="957" y="1932.5">name</text><text x="1003" y="1932.5">자동</text><text class="k" x="957" y="1954">value</text><text x="1003" y="1954">자동</text>
<rect class="b" x="953" y="1978.7" width="83.2" height="43" rx="4"/><line x1="998" y1="1978.7" x2="998" y2="2021.7"/><line x1="953" y1="2000.2" x2="1036.2" y2="2000.2"/>
<text class="k" x="957" y="1994.2">name</text><text x="1003" y="1994.2">수동</text><text class="k" x="957" y="2015.7">value</text><text x="1003" y="2015.7">수동</text>
<!-- 주행거리 -->
<rect class="b" x="597" y="1997.7" width="130.6" height="108.6" rx="4"/><line x1="662.2" y1="1997.7" x2="662.2" y2="2106.3"/><line x1="597" y1="2019.4" x2="727.6" y2="2019.4"/><line x1="597" y1="2041.1" x2="727.6" y2="2041.1"/><line x1="597" y1="2062.9" x2="727.6" y2="2062.9"/><line x1="597" y1="2084.6" x2="727.6" y2="2084.6"/>
<text class="k" x="602" y="2013">name</text><text x="667" y="2013">주행거리</text>
<text class="k" x="602" y="2034.8">example</text><text x="667" y="2034.8">100000</text>
<text class="k" x="602" y="2056.5">type</text><text x="667" y="2056.5">int</text>
<text class="k" x="602" y="2078.3">min</text><text x="667" y="2078.3">0</text>
<text class="k" x="602" y="2100">max</text><text x="667" y="2100">999999</text>
</g>
</svg>
</body></html>
